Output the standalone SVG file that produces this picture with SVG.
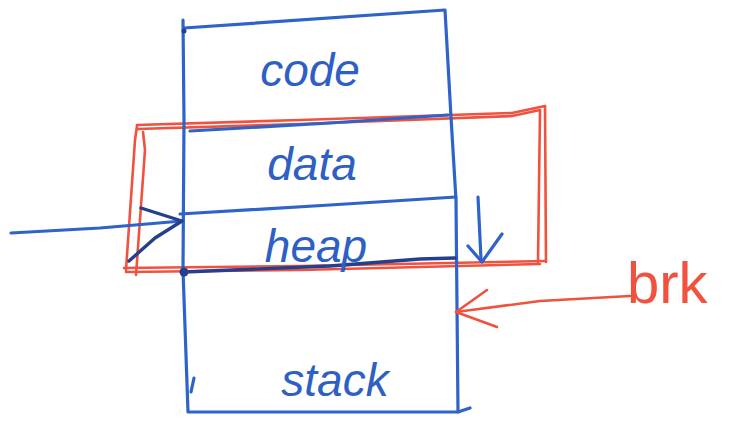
<svg xmlns="http://www.w3.org/2000/svg" width="744" height="423" viewBox="0 0 744 423">
  <style>
    .blue { fill: none; stroke: #2e63c9; stroke-width: 3.2; stroke-linecap: round; stroke-linejoin: round; }
    .navy { fill: none; stroke: #253f8f; stroke-width: 3.4; stroke-linecap: round; stroke-linejoin: round; }
    .red { fill: none; stroke: #f0523f; stroke-width: 2.6; stroke-linecap: round; stroke-linejoin: round; }
    .lbl { font-family: "Liberation Sans", "DejaVu Sans", sans-serif; font-style: italic; fill: #2e5fc4; font-size: 46px; text-anchor: middle; }
    .lblred { font-family: "Liberation Sans", "DejaVu Sans", sans-serif; fill: #f0523f; font-size: 58px; }
  </style>
  <rect width="744" height="423" fill="#ffffff"/>

  <!-- heap region managed by brk (red double outline) -->
  <g id="brk-region">
    <path class="red" d="M137,125 L300,120 L512,113 L545,106"/>
    <path class="red" d="M137,129 L300,124 L512,116 L540,110"/>
    <path class="red" d="M545,106 L546,262"/>
    <path class="red" d="M540,110 L538,262"/>
    <path class="red" d="M137,126 L135,140 L126,270"/>
    <path class="red" d="M143,132 L145,150 L136,275"/>
    <path class="red" d="M124,268 L300,266 L546,261"/>
    <path class="red" d="M126,272 L300,270 L540,264"/>
  </g>

  <!-- address space outline -->
  <g id="address-space">
    <path class="blue" d="M184,28 L445,10 L451,117 L456,200 L458,412"/>
    <path class="blue" d="M183,20 L184,120 L183,270 L188,412 L458,412 L470,408"/>
    <circle cx="184" cy="31" r="2.5" fill="#253f8f"/>
  </g>

  <g id="code">
    <text class="lbl" x="310" y="86">code</text>
  </g>

  <g id="data">
    <path class="blue" d="M190,131 L330,123 L448,115"/>
    <text class="lbl" x="312" y="180">data</text>
  </g>

  <g id="heap">
    <path class="blue" d="M180,214 L330,205 L456,197"/>
    <path class="navy" d="M184,272 L330,266 L420,259 L455,258"/>
    <circle cx="184" cy="272" r="4.5" fill="#253f8f"/>
    <text class="lbl" x="316" y="262">heap</text>
  </g>

  <g id="stack">
    <path class="blue" d="M194,378 L191,392"/>
    <text class="lbl" x="335" y="396">stack</text>
  </g>

  <g id="brk">
    <text class="lblred" x="627" y="303">brk</text>
  </g>

  <g id="connectors">
    <!-- pointer into heap start -->
    <path class="blue" d="M11,233 L100,228 L182,221"/>
    <path class="navy" d="M141,208 L182,221 L155,238 L129,261"/>
    <!-- heap growth -->
    <path class="blue" d="M478,197 L481,259"/>
    <path class="blue" d="M468,246 L482,262 L502,234"/>
    <!-- brk pointer -->
    <path class="red" d="M630,296 L540,301 L456,312"/>
    <path class="red" d="M487,290 L456,312 L497,327"/>
  </g>
</svg>
